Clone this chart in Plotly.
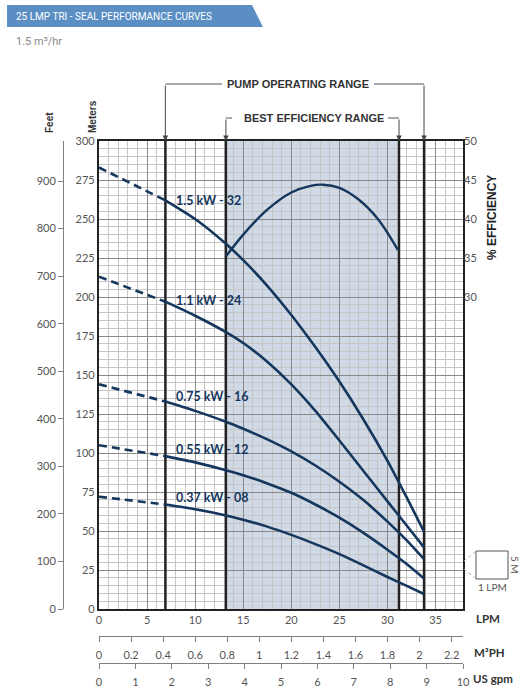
import plotly.graph_objects as go

# ---------------- data ----------------
flow_shutoff = [0, 6.9]
flow_curve = [6.9, 10, 13.2, 15, 17.5, 20, 22.5, 25, 27.5, 30, 32, 33.8]

head_150_dash = [283, 262]
head_150 = [262, 250, 234.1, 223.6, 207.2, 188.5, 167.9, 145.8, 121.5, 95, 71.5, 49.6]
head_110_dash = [213, 197]
head_110 = [197, 188, 177.5, 170.5, 158.5, 144, 127, 108, 88.5, 69, 53.5, 39.5]
head_075_dash = [144, 133]
head_075 = [133, 127, 120, 115.5, 108.7, 101, 92, 81.6, 69.8, 56, 44, 32]
head_055_dash = [105, 98]
head_055 = [98, 94, 89, 85.8, 80.5, 74.5, 67, 58.5, 48.8, 38, 28.8, 19.5]
head_037_dash = [72, 67]
head_037 = [67, 64, 60, 57.2, 52.8, 47.5, 41.6, 35.2, 28, 20.5, 14.8, 9.6]

model_labels = ["1.5 kW - 32", "1.1 kW - 24", "0.75 kW - 16", "0.55 kW - 12", "0.37 kW - 08"]
label_heads = [262, 197.6, 136.5, 102.4, 71.6]

eff_flow = [13.2, 15, 17.5, 20, 22, 23.3, 25, 27, 29, 31.1]
eff_pct = [35.2, 38.0, 41.2, 43.4, 44.25, 44.4, 44.0, 42.5, 40.0, 36.0]

operating_range = [6.9, 33.8]
best_eff_range = [13.2, 31.2]

lpm_ticks = [0, 5, 10, 15, 20, 25, 30, 35]
m3ph_ticks = [0, 0.2, 0.4, 0.6, 0.8, 1, 1.2, 1.4, 1.6, 1.8, 2, 2.2]
gpm_ticks = [0, 1, 2, 3, 4, 5, 6, 7, 8, 9, 10]
meter_ticks = [0, 25, 50, 75, 100, 125, 150, 175, 200, 225, 250, 275, 300]
feet_ticks = [0, 100, 200, 300, 400, 500, 600, 700, 800, 900]
eff_ticks = [30, 35, 40, 45, 50]

# ---------------- layout helpers ----------------
W, H = 531, 700
def px(x):
    return x / W
def py(y):
    return 1 - y / H

GPM_MAX = 10
LPM_MAX = GPM_MAX * 3.78541
M_MAX = 300
PX_PER_LPM = 364 / LPM_MAX
CURVE = "#15375e"
TICKFONT = dict(family="Lato, 'Open Sans', sans-serif", size=11, color="#555555")
BOLD = "Liberation Sans, Arial, sans-serif"

fig = go.Figure()

dash_sets = [head_150_dash, head_110_dash, head_075_dash, head_055_dash, head_037_dash]
solid_sets = [head_150, head_110, head_075, head_055, head_037]
for d, s in zip(dash_sets, solid_sets):
    fig.add_trace(go.Scatter(x=flow_shutoff, y=d, mode="lines",
                             line=dict(color=CURVE, width=2.6, dash="8px,5px"),
                             showlegend=False, hoverinfo="skip"))
    fig.add_trace(go.Scatter(x=flow_curve, y=s, mode="lines",
                             line=dict(color=CURVE, width=2.6, shape="spline", smoothing=0.6),
                             showlegend=False))

fig.add_trace(go.Scatter(x=eff_flow, y=eff_pct, mode="lines", yaxis="y2",
                         line=dict(color=CURVE, width=2.4, shape="spline", smoothing=1.0),
                         showlegend=False))

# invisible traces to activate the extra axes
fig.add_trace(go.Scatter(x=[0], y=[0], yaxis="y3", mode="markers",
                         marker=dict(opacity=0), showlegend=False, hoverinfo="skip"))
fig.add_trace(go.Scatter(x=[0], y=[0], xaxis="x2", mode="markers",
                         marker=dict(opacity=0), showlegend=False, hoverinfo="skip"))
fig.add_trace(go.Scatter(x=[0], y=[0], xaxis="x3", mode="markers",
                         marker=dict(opacity=0), showlegend=False, hoverinfo="skip"))

xdom = [px(99), px(463)]
ydom = [py(609), py(141)]

fig.update_layout(
    width=W, height=H, autosize=False,
    margin=dict(l=0, r=0, t=0, b=0, autoexpand=False),
    paper_bgcolor="white", plot_bgcolor="white",
    font=dict(family="Lato, 'Open Sans', sans-serif", color="#555555"),
    xaxis=dict(domain=xdom, range=[0, LPM_MAX], tickvals=lpm_ticks,
               showgrid=True, gridcolor="#8a8a8a", gridwidth=1,
               minor=dict(dtick=1, showgrid=True, gridcolor="#c6c6c6", gridwidth=0.8),
               showline=True, mirror=True, linecolor="#222222", linewidth=2.2,
               zeroline=False, ticks="", tickfont=TICKFONT, anchor="y", automargin=False),
    yaxis=dict(domain=ydom, range=[0, M_MAX], tickvals=meter_ticks,
               showgrid=True, gridcolor="#8a8a8a", gridwidth=1,
               minor=dict(dtick=5, showgrid=True, gridcolor="#c6c6c6", gridwidth=0.8),
               showline=True, mirror=True, linecolor="#222222", linewidth=2.2,
               zeroline=False, ticks="", tickfont=TICKFONT, anchor="x", automargin=False),
    yaxis2=dict(overlaying="y", side="right", range=[-10, 50], tickvals=eff_ticks,
                showgrid=False, zeroline=False, showline=False, ticks="",
                tickfont=TICKFONT, anchor="x", automargin=False),
    yaxis3=dict(overlaying="y", side="left", anchor="free", position=px(63),
                range=[0, M_MAX * 3.28084], tickvals=feet_ticks,
                showgrid=False, zeroline=False, showline=True, linecolor="#808080",
                linewidth=1, ticks="outside", ticklen=5, tickcolor="#808080",
                tickfont=TICKFONT, automargin=False),
    xaxis2=dict(overlaying="x", side="bottom", anchor="free", position=py(636),
                range=[0, LPM_MAX * 0.06], tickvals=m3ph_ticks,
                ticktext=[f"{v:g}" for v in m3ph_ticks],
                showgrid=False, zeroline=False, showline=True, linecolor="#808080",
                linewidth=1, ticks="outside", ticklen=5, tickcolor="#808080",
                ticklabelstandoff=4, tickfont=TICKFONT, automargin=False),
    xaxis3=dict(overlaying="x", side="bottom", anchor="free", position=py(663),
                range=[0, GPM_MAX + 1e-6], tickvals=gpm_ticks,
                showgrid=False, zeroline=False, showline=True, linecolor="#808080",
                linewidth=1, ticks="outside", ticklen=5, tickcolor="#808080",
                ticklabelstandoff=4, tickfont=TICKFONT, automargin=False),
)

shapes = []
# best efficiency shading
shapes.append(dict(type="rect", xref="x", yref="y", x0=best_eff_range[0], x1=best_eff_range[1],
                   y0=0, y1=M_MAX, fillcolor="#d0d9e6", line=dict(width=0), layer="below"))
# thick range lines
for xv in operating_range + best_eff_range:
    shapes.append(dict(type="line", xref="x", yref="y", x0=xv, x1=xv, y0=0, y1=M_MAX,
                       line=dict(color="#222222", width=2.4), layer="between"))
# bracket horizontals
BR = "#555555"
shapes.append(dict(type="line", xref="x", yref="paper", x0=operating_range[0], x1=(222 - 99) / PX_PER_LPM,
                   y0=py(84), y1=py(84), line=dict(color=BR, width=1)))
shapes.append(dict(type="line", xref="x", yref="paper", x0=(374 - 99) / PX_PER_LPM, x1=operating_range[1],
                   y0=py(84), y1=py(84), line=dict(color=BR, width=1)))
shapes.append(dict(type="line", xref="x", yref="paper", x0=best_eff_range[0], x1=(232 - 99) / PX_PER_LPM,
                   y0=py(118), y1=py(118), line=dict(color=BR, width=1)))
shapes.append(dict(type="line", xref="x", yref="paper", x0=(388 - 99) / PX_PER_LPM, x1=best_eff_range[1],
                   y0=py(118), y1=py(118), line=dict(color=BR, width=1)))
# title banner
shapes.append(dict(type="path", xref="paper", yref="paper",
                   path=f"M {px(7)} {py(5)} L {px(252)} {py(5)} L {px(263)} {py(27)} L {px(7)} {py(27)} Z",
                   fillcolor="#5b8fc4", line=dict(width=0)))
# scale box
shapes.append(dict(type="rect", xref="paper", yref="paper", x0=px(476), x1=px(508),
                   y0=py(579), y1=py(551), line=dict(color="#555555", width=1)))
shapes.append(dict(type="line", xref="paper", yref="paper", x0=px(464), y0=py(561), x1=px(476), y1=py(551),
                   line=dict(color="#aaaaaa", width=1, dash="dot")))
shapes.append(dict(type="line", xref="paper", yref="paper", x0=px(464), y0=py(569), x1=px(476), y1=py(579),
                   line=dict(color="#aaaaaa", width=1, dash="dot")))
fig.update_layout(shapes=shapes)

ann = []
# arrows
for xv in operating_range:
    ann.append(dict(x=xv, y=M_MAX, xref="x", yref="y", text="", showarrow=True,
                    ax=0, ay=-57, arrowhead=2, arrowsize=1.1, arrowwidth=1, arrowcolor="#444444"))
for xv in best_eff_range:
    ann.append(dict(x=xv, y=M_MAX, xref="x", yref="y", text="", showarrow=True,
                    ax=0, ay=-23, arrowhead=2, arrowsize=1.1, arrowwidth=1, arrowcolor="#444444"))

def label(x, y, text, font, angle=0, xanchor="center", yanchor="middle"):
    ann.append(dict(x=x, y=y, xref="paper", yref="paper", text=text, textangle=angle,
                    xanchor=xanchor, yanchor=yanchor, showarrow=False, font=font))

label(px(298), py(84), "<b>PUMP OPERATING RANGE</b>", dict(family=BOLD, size=11, color="#333333"))
label(px(313.5), py(118), "<b>BEST EFFICIENCY RANGE</b>", dict(family=BOLD, size=11, color="#333333"))
# curve labels
for t, hv in zip(model_labels, label_heads):
    ann.append(dict(x=7.8, y=hv, xref="x", yref="y", text=f"<b>{t}</b>", showarrow=False,
                    xanchor="left", yanchor="middle",
                    font=dict(family="Lato, 'Open Sans', sans-serif", size=12.5, color=CURVE)))
# axis titles
label(px(49), py(123), "<b>Feet</b>", dict(family=BOLD, size=10, color="#333333"), angle=-90)
label(px(92), py(117), "<b>Meters</b>", dict(family=BOLD, size=10, color="#333333"), angle=-90)
label(px(492), py(218), "<b>% EFFICIENCY</b>", dict(family=BOLD, size=12, color="#222222"), angle=-90)
for t, xx, yy in [("LPM", 474, 618), ("M³PH", 472, 652), ("US gpm", 471, 678)]:
    label(px(xx), py(yy), f"<b>{t}</b>",
          dict(family="Lato, 'Open Sans', sans-serif", size=11.5, color="#333333"), xanchor="left")
# title + subtitle
label(px(14), py(16.5), "25 LMP TRI - SEAL PERFORMANCE CURVES",
      dict(family="Roboto, sans-serif", size=10, color="white"), xanchor="left")
label(px(14), py(41), "1.5 m³/hr",
      dict(family="Roboto, sans-serif", size=11, color="#8a8a8a"), xanchor="left")
# scale box labels
label(px(492), py(587), "1 LPM", dict(family="Lato, sans-serif", size=10, color="#555555"))
label(px(515), py(565), "5 M", dict(family="Lato, sans-serif", size=10, color="#555555"), angle=90)
fig.update_layout(annotations=ann)

fig.write_html("out.html", config={"displayModeBar": False},
               post_script="document.body.style.margin='0';")
